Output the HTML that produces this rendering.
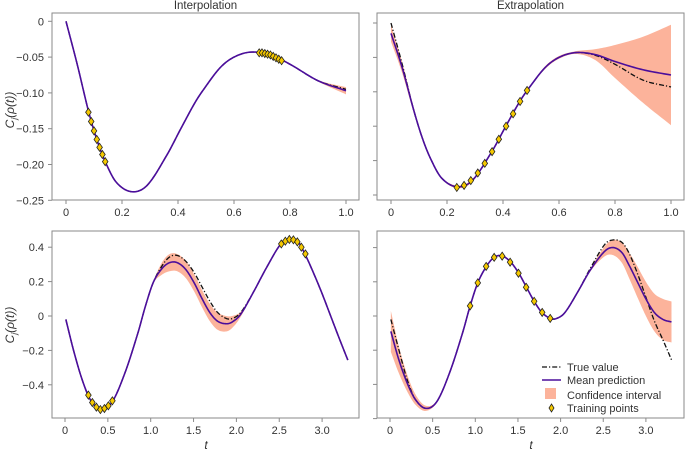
<!DOCTYPE html>
<html><head><meta charset="utf-8"><style>
html,body{margin:0;padding:0;background:#fff}
svg{display:block;font-family:"Liberation Sans",sans-serif}
</style></head><body>
<svg id="fig" width="685" height="453" viewBox="0 0 685 453"></svg>
<script>
// ---------- data ----------
const topTrueT = [0,0.04,0.08,0.11,0.14,0.18,0.235,0.29,0.36,0.41,0.46,0.49,0.55,0.6,0.66,0.73,0.8,0.9,1.0];
const topTrueV = [0,-0.06,-0.125,-0.165,-0.196,-0.225,-0.238,-0.229,-0.187,-0.15,-0.114,-0.096,-0.065,-0.05,-0.043,-0.047,-0.06,-0.083,-0.095];
const topLeftMeanV = [0,-0.06,-0.125,-0.165,-0.196,-0.225,-0.238,-0.229,-0.187,-0.15,-0.114,-0.096,-0.065,-0.05,-0.043,-0.047,-0.06,-0.083,-0.097];
const topLeftCiHalf = [0,0,0,0,0,0,0,0,0,0,0,0,0,0,0,0,0,0.001,0.005];
const topLeftTrainT = [0.08,0.09,0.10,0.11,0.12,0.13,0.14,0.69,0.70,0.71,0.72,0.73,0.74,0.75,0.76,0.77];
const topLeftTrainV = [-0.127,-0.140,-0.153,-0.165,-0.176,-0.186,-0.196,-0.044,-0.044,-0.045,-0.046,-0.047,-0.049,-0.051,-0.053,-0.055];
const topRightTrueV = [0,-0.06,-0.125,-0.165,-0.196,-0.225,-0.238,-0.229,-0.187,-0.15,-0.114,-0.096,-0.065,-0.05,-0.043,-0.047,-0.06,-0.083,-0.093];
const topRightMeanV = [-0.015,-0.065,-0.125,-0.165,-0.196,-0.225,-0.238,-0.229,-0.187,-0.15,-0.114,-0.096,-0.065,-0.05,-0.043,-0.046,-0.056,-0.068,-0.0756];
const topRightCiHalf = [0.012,0.008,0.004,0.002,0.001,0.001,0.002,0.002,0.001,0.002,0.002,0.001,0.002,0.002,0.002,0.008,0.024,0.048,0.073];
const topRightTrainT = [0.235,0.261,0.285,0.310,0.335,0.361,0.385,0.411,0.436,0.461,0.486];
const topRightTrainV = [-0.239,-0.236,-0.229,-0.218,-0.204,-0.187,-0.169,-0.150,-0.132,-0.114,-0.098];

const botT = [0.01,0.1,0.2,0.3,0.42,0.55,0.7,0.85,0.94,1.03,1.13,1.22,1.31,1.41,1.51,1.6,1.69,1.78,1.88,1.95,2.05,2.2,2.35,2.52,2.62,2.72,2.8,2.9,3.0,3.1,3.2,3.3];
const botTrueV = [-0.02,-0.2,-0.37,-0.49,-0.54,-0.5,-0.33,-0.1,0.06,0.195,0.29,0.343,0.352,0.318,0.25,0.168,0.086,0.021,-0.014,-0.015,0.02,0.14,0.28,0.42,0.445,0.43,0.36,0.25,0.13,0.0,-0.13,-0.256];
const botLeftMeanV = [-0.02,-0.2,-0.37,-0.49,-0.54,-0.5,-0.33,-0.1,0.06,0.195,0.275,0.31,0.31,0.27,0.19,0.1,0.02,-0.03,-0.045,-0.035,0.01,0.14,0.28,0.42,0.445,0.43,0.36,0.25,0.13,0.0,-0.13,-0.256];
const botLeftCiHalf = [0,0,0,0,0,0,0,0,0,0.005,0.035,0.05,0.05,0.05,0.05,0.05,0.05,0.05,0.045,0.035,0.015,0,0,0,0,0,0,0,0,0,0,0];
const botLeftTrainT = [0.273,0.319,0.366,0.413,0.460,0.506,0.553,2.524,2.571,2.618,2.665,2.711,2.758,2.805];
const botLeftTrainV = [-0.46,-0.503,-0.53,-0.544,-0.538,-0.522,-0.493,0.419,0.435,0.445,0.443,0.431,0.40,0.361];
const botRightTrueV = [-0.02,-0.19,-0.37,-0.49,-0.54,-0.5,-0.33,-0.1,0.06,0.195,0.29,0.343,0.352,0.318,0.25,0.168,0.086,0.021,-0.014,-0.015,0.02,0.14,0.28,0.42,0.445,0.43,0.37,0.25,0.11,-0.03,-0.14,-0.256];
const botRightMeanV = [-0.09,-0.25,-0.39,-0.49,-0.54,-0.5,-0.33,-0.1,0.06,0.195,0.29,0.343,0.352,0.318,0.25,0.168,0.086,0.021,-0.014,-0.015,0.02,0.14,0.27,0.38,0.40,0.37,0.3,0.2,0.1,0.02,-0.02,-0.035];
const botRightCiHalf = [0.12,0.08,0.05,0.03,0.015,0.005,0.003,0.003,0.003,0.003,0.003,0.003,0.003,0.003,0.003,0.003,0.003,0.003,0.003,0.003,0.003,0.005,0.008,0.03,0.045,0.06,0.075,0.09,0.1,0.11,0.12,0.12];
const botRightTrainT = [0.939,1.029,1.127,1.221,1.315,1.408,1.506,1.596,1.690,1.784,1.878];
const botRightTrainV = [0.059,0.194,0.290,0.343,0.350,0.315,0.250,0.168,0.086,0.021,-0.014];

const topXTicks = [0,0.2,0.4,0.6,0.8,1.0];
const topXLabels = ["0","0.2","0.4","0.6","0.8","1.0"];
const topYTicks = [0,-0.05,-0.10,-0.15,-0.20,-0.25];
const topYLabels = ["0","−0.05","−0.10","−0.15","−0.20","−0.25"];
const botXTicks = [0,0.5,1.0,1.5,2.0,2.5,3.0];
const botXLabels = ["0","0.5","1.0","1.5","2.0","2.5","3.0"];
const botYTicks = [0.4,0.2,0,-0.2,-0.4];
const botYLabels = ["0.4","0.2","0","−0.2","−0.4"];
const botRightYTicks = [0.4,0.2,0,-0.2,-0.4,-0.6];

// ---------- drawing ----------
const NS="http://www.w3.org/2000/svg";
const svg=document.getElementById('fig');
function mk(tag,attrs,parent){const e=document.createElementNS(NS,tag);for(const k in attrs)e.setAttribute(k,attrs[k]);(parent||svg).appendChild(e);return e;}
const PURPLE="#4b0e9b", CI="#fcb39b", GOLD="#f5c800", AX="#8a8a8a", TXT="#333";

function crSample(ts,vs,n){
  const out=[];
  for(let i=0;i<ts.length-1;i++){
    const p0=vs[Math.max(i-1,0)],p1=vs[i],p2=vs[i+1],p3=vs[Math.min(i+2,vs.length-1)];
    const t0=ts[Math.max(i-1,0)],t1=ts[i],t2=ts[i+1],t3=ts[Math.min(i+2,ts.length-1)];
    const m1=(p2-p0)/((t2-t0)||1)*(t2-t1), m2=(p3-p1)/((t3-t1)||1)*(t2-t1);
    for(let k=0;k<n;k++){const s=k/n,s2=s*s,s3=s2*s;
      const v=(2*s3-3*s2+1)*p1+(s3-2*s2+s)*m1+(-2*s3+3*s2)*p2+(s3-s2)*m2;
      out.push([t1+(t2-t1)*s,v]);}
  }
  out.push([ts[ts.length-1],vs[vs.length-1]]);
  return out;
}
function linePath(pts,X,Y){return pts.map((p,i)=>(i?'L':'M')+X(p[0]).toFixed(2)+','+Y(p[1]).toFixed(2)).join('');}

function panel(o){
  const g=mk('g',{});  
  const X=t=>o.x0+t*o.xs, Y=v=>o.y0-v*o.ys;
  const mean=crSample(o.t,o.mean,12);
  const half=crSample(o.t,o.half,12);
  const up=mean.map((p,i)=>[p[0],p[1]+Math.max(half[i][1],0)]);
  const lo=mean.map((p,i)=>[p[0],p[1]-Math.max(half[i][1],0)]).reverse();
  const band=mk('path',{d:linePath(up.concat(lo),X,Y)+'Z',fill:CI,stroke:'none'},g);
  
  
  const tr=mk('path',{d:linePath(crSample(o.t,o.tru,12),X,Y),fill:'none',stroke:'#111','stroke-width':1.3,'stroke-dasharray':'5,2,1.2,2'},g);
  
  
  const mp=mk('path',{d:linePath(mean,X,Y),fill:'none',stroke:PURPLE,'stroke-width':1.6},g);
  
  
  o.trT.forEach((t,i)=>{const cx=X(t),cy=Y(o.trV[i]);
    const d=mk('path',{d:`M${cx},${cy-4}L${cx+2.8},${cy}L${cx},${cy+4}L${cx-2.8},${cy}Z`,fill:GOLD,stroke:'#222','stroke-width':0.8},g);
    
    });
  const fr=mk('rect',{x:o.bx,y:o.by,width:o.bw,height:o.bh,fill:'none',stroke:AX,'stroke-width':1},g);
  
  
  o.xt.forEach((t,i)=>{const x=X(t);
    mk('line',{x1:x,x2:x,y1:o.by+o.bh,y2:o.by+o.bh+4,stroke:AX},g);
    const tx=mk('text',{x:x,y:o.by+o.bh+16,'text-anchor':'middle','font-size':11,fill:TXT},g);tx.textContent=o.xl[i];
    
    });
  o.yt.forEach((v,i)=>{const y=Y(v);
    mk('line',{x1:o.bx-4,x2:o.bx,y1:y,y2:y,stroke:AX},g);
    if(o.yl){const tx=mk('text',{x:o.bx-8,y:y+4,'text-anchor':'end','font-size':11,fill:TXT},g);tx.textContent=o.yl[i];
      
      }});
  if(o.title){const tt=mk('text',{x:o.bx+o.bw/2,y:o.by-4,'text-anchor':'middle','font-size':11.5,fill:TXT},g);tt.textContent=o.title;
    
    }
}
panel({name:'interpolation-top',bx:52,by:13,bw:307,bh:187,x0:66,xs:280,y0:21.3,ys:716,t:topTrueT,tru:topTrueV,mean:topLeftMeanV,half:topLeftCiHalf,trT:topLeftTrainT,trV:topLeftTrainV,xt:topXTicks,xl:topXLabels,yt:topYTicks,yl:topYLabels,title:'Interpolation'});
panel({name:'extrapolation-top',bx:377,by:13,bw:307,bh:187,x0:391,xs:280,y0:23,ys:688,t:topTrueT,tru:topRightTrueV,mean:topRightMeanV,half:topRightCiHalf,trT:topRightTrainT,trV:topRightTrainV,xt:topXTicks,xl:topXLabels,yt:topYTicks,yl:null,title:'Extrapolation'});
panel({name:'interpolation-bottom',bx:52,by:231,bw:307,bh:187,x0:65,xs:85.7,y0:316,ys:172,t:botT,tru:botTrueV,mean:botLeftMeanV,half:botLeftCiHalf,trT:botLeftTrainT,trV:botLeftTrainV,xt:botXTicks,xl:botXLabels,yt:botYTicks,yl:botYLabels});
panel({name:'extrapolation-bottom',bx:377,by:231,bw:307,bh:187,x0:390,xs:85.3,y0:316,ys:171,t:botT,tru:botRightTrueV,mean:botRightMeanV,half:botRightCiHalf,trT:botRightTrainT,trV:botRightTrainV,xt:botXTicks,xl:botXLabels,yt:botRightYTicks,yl:null});

[[110,'y-axis-title-top'],[325,'y-axis-title-bottom']].forEach(([cy,nm])=>{
  const t=mk('text',{x:0,y:0,transform:`translate(14,${cy}) rotate(-90)`,'text-anchor':'middle','font-size':12,fill:TXT,'font-style':'italic'});
  t.innerHTML='C<tspan dy="3" font-size="8">j</tspan><tspan dy="-3">(ρ(t))</tspan>';
  
  });
[[206],[531]].forEach(([x])=>{const t=mk('text',{x:x,y:449,'text-anchor':'middle','font-size':12,'font-style':'italic',fill:TXT});t.textContent='t';
  
  });

const lg=mk('g',{});


mk('line',{x1:542,x2:561,y1:367,y2:367,stroke:'#111','stroke-width':1.3,'stroke-dasharray':'5,2,1.2,2'},lg);
mk('line',{x1:542,x2:561,y1:380,y2:380,stroke:PURPLE,'stroke-width':1.6},lg);
mk('rect',{x:545,y:388,width:11,height:11,fill:CI},lg);
mk('path',{d:'M551.5,404L554,408L551.5,412L549,408Z',fill:GOLD,stroke:'#222','stroke-width':0.8},lg);
[['True value',367,'legend-entry-true'],['Mean prediction',380,'legend-entry-mean'],['Confidence interval',395,'legend-entry-ci'],['Training points',408,'legend-entry-training']].forEach(([s,y,nm])=>{
  const t=mk('text',{x:567,y:y+4,'font-size':11,fill:TXT},lg);t.textContent=s;
  
  });
</script>
</body></html>
